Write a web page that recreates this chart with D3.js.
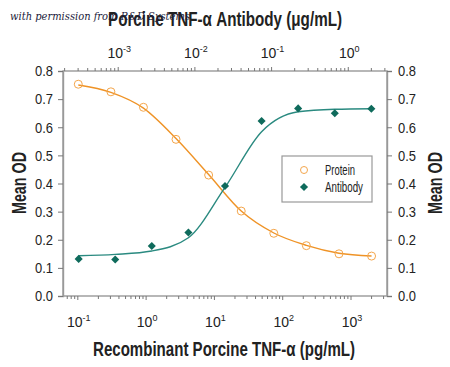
<!DOCTYPE html>
<html><head><meta charset="utf-8">
<script src="https://cdn.jsdelivr.net/npm/d3@7"></script>
<style>
html,body{margin:0;padding:0;background:#fff;}
svg{display:block;}
text{font-family:"Liberation Sans",Arial,sans-serif;}
</style></head>
<body>
<svg id="chart" width="450" height="367"></svg>
<script>
// ---- data ----
const proteinConc = [0.1016, 0.305, 0.914, 2.74, 8.23, 24.7, 74.1, 222, 667, 2000]; // pg/mL
const proteinOD   = [0.753, 0.726, 0.671, 0.557, 0.430, 0.302, 0.223, 0.179, 0.150, 0.142];
const proteinFit  = [0.750, 0.724, 0.668, 0.560, 0.432, 0.302, 0.224, 0.180, 0.152, 0.142];

const antibodyConc = [0.000305, 0.000914, 0.00274, 0.00823, 0.0247, 0.0741, 0.222, 0.667, 2]; // ug/mL
const antibodyOD   = [0.132, 0.130, 0.178, 0.226, 0.391, 0.622, 0.667, 0.650, 0.666];
const antibodyFit  = [0.143, 0.148, 0.160, 0.207, 0.386, 0.584, 0.655, 0.664, 0.666];

const yTicks = [0, 0.1, 0.2, 0.3, 0.4, 0.5, 0.6, 0.7, 0.8];
const bottomTicks = [0.1, 1, 10, 100, 1000];
const bottomTickExp = ["-1", "0", "1", "2", "3"];
const topTicks = [0.001, 0.01, 0.1, 1];
const topTickExp = ["-3", "-2", "-1", "0"];
const seriesNames = ["Protein", "Antibody"];

const titleTop = "Porcine TNF-\u03B1 Antibody (\u03BCg/mL)";
const titleBottom = "Recombinant Porcine TNF-\u03B1 (pg/mL)";
const yTitle = "Mean OD";
const watermark = "with permission from R&D Systems";

// ---- layout ----
const L = 63, R = 387, T = 71, B = 296;
const orange = "#ef9326", orangeMark = "#f4a64c";
const teal = "#2a8a80", tealMark = "#0f6b5c";
const axisCol = "#999";
const txt = "#222";

const svg = d3.select("#chart");

const xBottom = d3.scaleLog().domain([Math.pow(10, -1.217), Math.pow(10, 3.527)]).range([L, R]);
const xTop = d3.scaleLog().domain([Math.pow(10, -3.72), Math.pow(10, 0.505)]).range([L, R]);
const y = d3.scaleLinear().domain([0, 0.8]).range([B, T]);

function logTicks(sc) {
  const [a, b] = sc.domain();
  const out = [];
  for (let e = Math.floor(Math.log10(a)); e <= Math.ceil(Math.log10(b)); e++) {
    for (let m = 1; m <= 9; m++) {
      const v = m * Math.pow(10, e);
      if (v >= a && v <= b) out.push({v, major: m === 1});
    }
  }
  return out;
}

// frame
svg.append("rect").attr("x", L).attr("y", T).attr("width", R - L).attr("height", B - T)
  .attr("fill", "none").attr("stroke", axisCol).attr("stroke-width", 1.4);

svg.append("g").selectAll("line").data(logTicks(xBottom)).join("line")
  .attr("x1", d => xBottom(d.v)).attr("x2", d => xBottom(d.v))
  .attr("y1", B).attr("y2", d => B + (d.major ? 4 : 3))
  .attr("stroke", "#777").attr("stroke-width", 1);
svg.append("g").selectAll("line").data(logTicks(xTop)).join("line")
  .attr("x1", d => xTop(d.v)).attr("x2", d => xTop(d.v))
  .attr("y1", T).attr("y2", d => T - (d.major ? 4 : 3))
  .attr("stroke", "#777").attr("stroke-width", 1);

const yl = svg.append("g").attr("transform", `translate(${L},0)`)
  .call(d3.axisLeft(y).tickValues(yTicks).tickFormat(d3.format(".1f")).tickSize(5).tickPadding(5));
const yr = svg.append("g").attr("transform", `translate(${R},0)`)
  .call(d3.axisRight(y).tickValues(yTicks).tickFormat(d3.format(".1f")).tickSize(5).tickPadding(6));
[yl, yr].forEach(g => {
  g.select(".domain").attr("stroke", axisCol).attr("stroke-width", 1.4);
  g.selectAll(".tick line").attr("stroke", "#777");
  g.selectAll(".tick text").attr("font-size", 15).attr("fill", txt)
    .attr("textLength", 18).attr("lengthAdjust", "spacingAndGlyphs")
    .style("font-family", '"Liberation Sans",Arial,sans-serif');
});

function expLabels(vals, exps, sc, yy) {
  const g = svg.append("g");
  vals.forEach((v, i) => {
    const t = g.append("text").attr("x", sc(v) + 1).attr("y", yy).attr("text-anchor", "middle")
      .attr("font-size", 14).attr("fill", txt);
    t.append("tspan").text("10");
    t.append("tspan").attr("font-size", 9).attr("dy", -6).text(exps[i]);
  });
}
expLabels(bottomTicks, bottomTickExp, xBottom, 327);
expLabels(topTicks, topTickExp, xTop, 58);

// curves
const lineP = d3.line().x((d, i) => xBottom(proteinConc[i])).y(d => y(d)).curve(d3.curveMonotoneX);
const lineA = d3.line().x((d, i) => xTop(antibodyConc[i])).y(d => y(d)).curve(d3.curveMonotoneX);
svg.append("path").attr("d", lineP(proteinFit)).attr("fill", "none").attr("stroke", orange).attr("stroke-width", 1.4);
svg.append("path").attr("d", lineA(antibodyFit)).attr("fill", "none").attr("stroke", teal).attr("stroke-width", 1.4);

// points
svg.append("g").selectAll("circle").data(proteinOD).join("circle")
  .attr("cx", (d, i) => xBottom(proteinConc[i])).attr("cy", d => y(d)).attr("r", 4)
  .attr("fill", "none").attr("stroke", orangeMark).attr("stroke-width", 1);
const diamond = d3.symbol().type(d3.symbolDiamond2).size(42);
svg.append("g").selectAll("path").data(antibodyOD).join("path")
  .attr("transform", (d, i) => `translate(${xTop(antibodyConc[i])},${y(d)})`)
  .attr("d", diamond).attr("fill", tealMark);

// legend
const lg = svg.append("g");
lg.append("rect").attr("x", 282).attr("y", 156).attr("width", 90).attr("height", 46)
  .attr("fill", "#fff").attr("stroke", axisCol).attr("stroke-width", 1.2);
lg.append("circle").attr("cx", 304).attr("cy", 170).attr("r", 3.5).attr("fill", "none").attr("stroke", orangeMark);
lg.append("path").attr("transform", "translate(304,187)").attr("d", diamond).attr("fill", tealMark);
const legLen = [30, 38];
lg.selectAll("text").data(seriesNames).join("text")
  .attr("x", 325).attr("y", (d, i) => 175 + i * 17).attr("font-size", 14).attr("fill", txt)
  .attr("textLength", (d, i) => legLen[i]).attr("lengthAdjust", "spacingAndGlyphs").text(d => d);

// titles
function title(x, yy, s, len, rot, fs) {
  svg.append("text").attr("transform", `translate(${x},${yy})` + (rot ? " rotate(-90)" : ""))
    .attr("text-anchor", "middle").attr("font-size", fs).attr("font-weight", "bold").attr("fill", txt)
    .attr("textLength", len).attr("lengthAdjust", "spacingAndGlyphs").text(s);
}
title(225, 26, titleTop, 234, false, 21);
title(224, 356, titleBottom, 262, false, 20);
title(26, 183, yTitle, 62, true, 21);
title(442, 183, yTitle, 62, true, 21);

// watermark
svg.append("text").attr("x", 10).attr("y", 20).attr("font-size", 11).attr("font-style", "italic")
  .style("font-family", '"DejaVu Serif","Liberation Serif",serif')
  .attr("textLength", 180).attr("lengthAdjust", "spacingAndGlyphs")
  .attr("fill", "#1c1c3c").text(watermark);
</script>
</body></html>
